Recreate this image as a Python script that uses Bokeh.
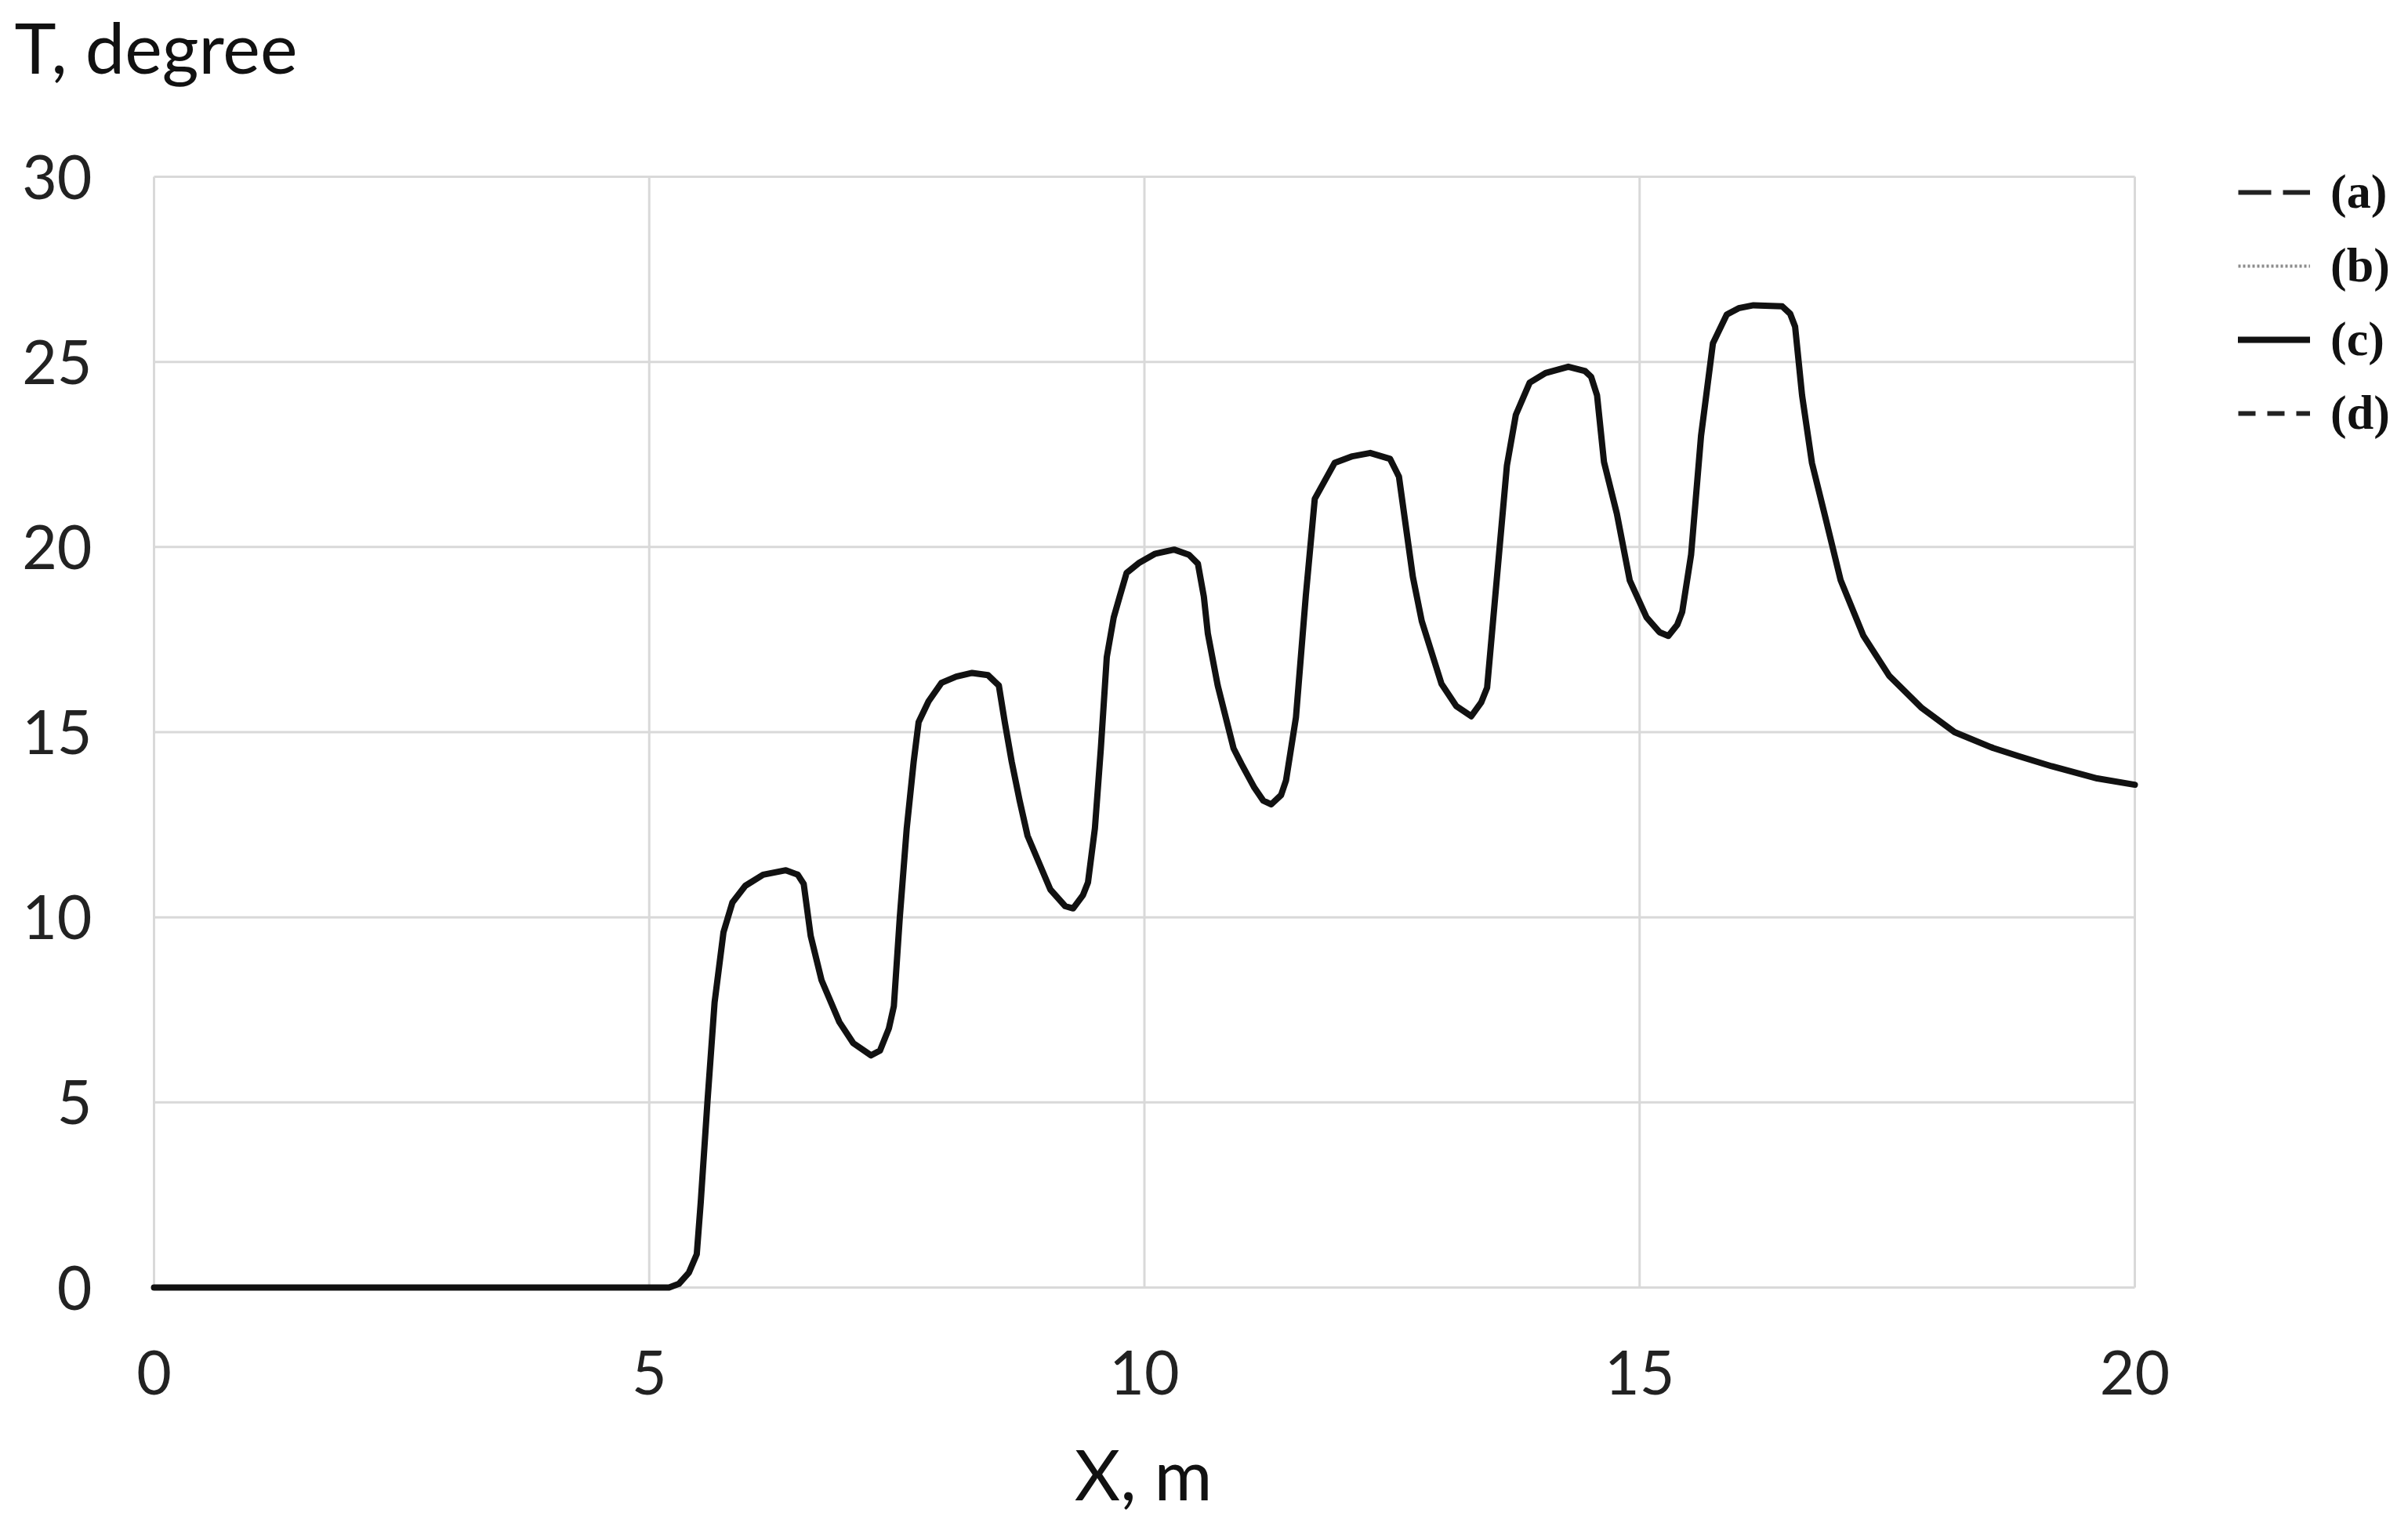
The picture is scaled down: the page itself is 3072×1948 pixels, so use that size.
from bokeh.plotting import figure
from bokeh.models import Range1d, FixedTicker, Legend, Title
from bokeh.embed import file_html
from bokeh.resources import INLINE

# ---- data ----
x_m = [0.0, 5.2, 5.3, 5.4, 5.48, 5.52, 5.59, 5.66, 5.75, 5.84, 5.97, 6.15, 6.38, 6.5, 6.56,
       6.63, 6.74, 6.92, 7.06, 7.24, 7.33, 7.42, 7.47, 7.53, 7.6, 7.67, 7.72, 7.82, 7.95, 8.1,
       8.26, 8.42, 8.53, 8.59, 8.66, 8.74, 8.82, 9.05, 9.2, 9.28, 9.38, 9.43, 9.5, 9.56, 9.62,
       9.69, 9.75, 9.82, 9.95, 10.11, 10.3, 10.45, 10.54, 10.6, 10.64, 10.74, 10.9, 10.98, 11.11,
       11.2, 11.28, 11.38, 11.43, 11.53, 11.63, 11.72, 11.92, 12.1, 12.28, 12.48, 12.57, 12.71,
       12.8, 13.0, 13.15, 13.3, 13.4, 13.46, 13.56, 13.66, 13.75, 13.89, 14.05, 14.28, 14.45,
       14.51, 14.57, 14.64, 14.77, 14.9, 15.07, 15.2, 15.29, 15.38, 15.43, 15.52, 15.62, 15.74,
       15.88, 16.0, 16.15, 16.44, 16.52, 16.57, 16.64, 16.74, 16.87, 17.03, 17.26, 17.52, 17.85,
       18.18, 18.57, 18.83, 19.16, 19.62, 20.0]
t_deg = [0.0, 0.0, 0.1, 0.4, 0.9, 2.3, 5.1, 7.7, 9.6, 10.4, 10.85, 11.15, 11.27, 11.15, 10.9,
         9.5, 8.3, 7.17, 6.6, 6.27, 6.4, 7.0, 7.6, 10.0, 12.4, 14.2, 15.27, 15.83, 16.33, 16.5,
         16.6, 16.54, 16.26, 15.27, 14.2, 13.15, 12.2, 10.75, 10.3, 10.24, 10.6, 10.94, 12.4, 14.56, 17.03,
         18.1, 18.66, 19.3, 19.58, 19.82, 19.93, 19.79, 19.55, 18.66, 17.67, 16.26, 14.56, 14.14, 13.5,
         13.15, 13.05, 13.3, 13.7, 15.4, 18.7, 21.3, 22.27, 22.45, 22.54, 22.38, 21.9, 19.2,
         18.0, 16.3, 15.7, 15.43, 15.8, 16.2, 19.2, 22.2, 23.57, 24.44, 24.7, 24.87, 24.75,
         24.6, 24.1, 22.3, 20.9, 19.1, 18.1, 17.7, 17.6, 17.9, 18.25, 19.8, 23.0, 25.5,
         26.28, 26.45, 26.53, 26.5, 26.3, 25.95, 24.1, 22.27, 20.86, 19.1, 17.6, 16.52, 15.65,
         15.0, 14.57, 14.35, 14.08, 13.75, 13.58]
# the four cases coincide on the picture
series_names = ["(a)", "(b)", "(c)", "(d)"]
x_ticks = [0, 5, 10, 15, 20]
y_ticks = [0, 5, 10, 15, 20, 25, 30]
x_lim = (0, 20)
y_lim = (0, 30)
y_title = "T, degree"
x_title = "X, m"

# ---- layout geometry (page pixels) ----
W, H = 3072, 1948
PX_L, PX_R = 196, 2723         # page x of x=0 and x=20
PY_T, PY_B = 225, 1642         # page y of y=30 and y=0
FR_L, FR_T, FR_B = 190, 112, 1648   # frame left / top / bottom edge (frame runs to the right edge)
sx = (PX_R - PX_L) / (x_lim[1] - x_lim[0])
sy = (PY_B - PY_T) / (y_lim[1] - y_lim[0])
x_start = x_lim[0] - (PX_L - FR_L) / sx
x_end = x_lim[0] + (W - PX_L) / sx
y_start = y_lim[0] - (FR_B - PY_B) / sy
y_end = y_lim[0] + (PY_B - FR_T) / sy

FONT = "Lato"

p = figure(width=W, height=H, output_backend="svg", toolbar_location=None,
           x_range=Range1d(x_start, x_end), y_range=Range1d(y_start, y_end),
           min_border_left=FR_L, min_border_right=0, min_border_top=FR_T,
           min_border_bottom=H - FR_B)
p.outline_line_color = None
p.xgrid.visible = False
p.ygrid.visible = False

for ax in (p.xaxis[0], p.yaxis[0]):
    ax.axis_line_color = None
    ax.major_tick_line_color = None
    ax.minor_tick_line_color = None
    ax.major_tick_out = 0
    ax.major_tick_in = 0
    ax.minor_tick_out = 0
    ax.major_label_text_font = FONT
    ax.major_label_text_font_size = "77px"
    ax.major_label_text_color = "#222222"

p.xaxis.ticker = FixedTicker(ticks=x_ticks)
p.yaxis.ticker = FixedTicker(ticks=y_ticks)
p.xaxis.bounds = x_lim
p.yaxis.bounds = y_lim
p.yaxis.major_label_standoff = 79 - (PX_L - FR_L)
p.xaxis.major_label_standoff = 80 - (FR_B - PY_B)
# the frame reaches the right edge (room for the legend); trailing no-break spaces
# bring the centred axis title back under the middle of the 0-20 span
p.xaxis.axis_label = x_title + "\u00a0" * 15
p.xaxis.axis_label_text_font = FONT
p.xaxis.axis_label_text_font_size = "90px"
p.xaxis.axis_label_text_font_style = "normal"
p.xaxis.axis_label_text_color = "#111111"
p.xaxis.axis_label_standoff = 43

# grid lines limited to the data area
GRID = dict(line_color="#d9d9d9", line_width=3)
p.segment(x0=x_ticks, y0=[y_lim[0]] * len(x_ticks), x1=x_ticks, y1=[y_lim[1]] * len(x_ticks), **GRID)
p.segment(x0=[x_lim[0]] * len(y_ticks), y0=y_ticks, x1=[x_lim[1]] * len(y_ticks), y1=y_ticks, **GRID)

styles = {
    "(a)": dict(line_dash="42 15", line_color="#222222", line_width=6, line_cap="butt"),
    "(b)": dict(line_dash="3 3", line_color="#8c8c8c", line_width=4, line_cap="butt"),
    "(d)": dict(line_dash="22 15", line_color="#222222", line_width=6, line_cap="butt"),
    "(c)": dict(line_dash="solid", line_color="#111111", line_width=8, line_cap="round"),
}
renderers = {}
for name in ["(a)", "(b)", "(d)", "(c)"]:
    renderers[name] = p.line(x_m, t_deg, line_join="round", **styles[name])

LEG_GLYPH_LEFT, LEG_TOP = 2855, 213
glyph_h, spacing, n = 70, 23, len(series_names)
leg_h = n * glyph_h + (n - 1) * spacing
legend = Legend(items=[(s, [renderers[s]]) for s in series_names],
                location=(LEG_GLYPH_LEFT - FR_L, FR_B - (LEG_TOP + leg_h)),
                orientation="vertical",
                glyph_width=92, glyph_height=glyph_h, label_height=glyph_h, spacing=spacing,
                padding=0, margin=0, label_standoff=26,
                border_line_alpha=0, background_fill_alpha=0,
                label_text_font="Liberation Serif", label_text_font_style="bold",
                label_text_font_size="62px", label_text_color="#111111")
p.add_layout(legend)

p.add_layout(Title(text=y_title, align="left", offset=18 - FR_L, standoff=0,
                   text_font=FONT, text_font_size="90px", text_font_style="normal",
                   text_color="#111111"), "above")

open("out.html", "w").write(file_html(p, INLINE))
